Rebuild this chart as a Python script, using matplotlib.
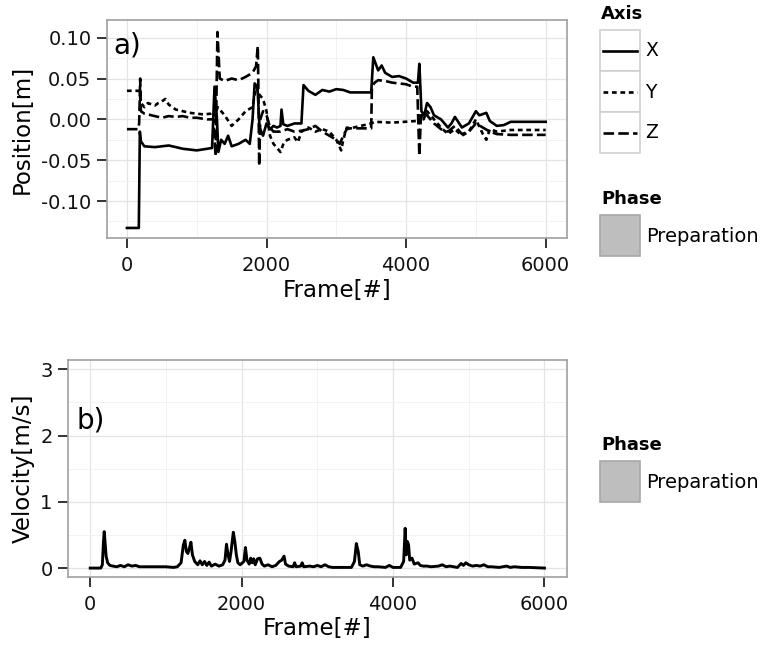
import matplotlib
matplotlib.use('Agg')
import matplotlib.pyplot as plt
from matplotlib.patches import Rectangle
from matplotlib.lines import Line2D

plt.rcParams['font.family'] = ['DejaVu Sans']

# Position data (frame, metres)
x_frame = [0, 170, 185, 200, 250, 400, 600, 800, 1000, 1150, 1220, 1255, 1290, 1310, 1350, 1400,
           1450, 1500, 1600, 1700, 1760, 1800, 1830, 1870, 1900, 1950, 2000, 2050, 2100, 2150,
           2200, 2215, 2240, 2300, 2400, 2500, 2530, 2600, 2700, 2800, 2900, 3000, 3100, 3200,
           3500, 3530, 3600, 3650, 3700, 3800, 3900, 4000, 4100, 4170, 4190, 4220, 4260, 4300,
           4350, 4400, 4500, 4600, 4650, 4700, 4800, 4900, 5000, 5050, 5150, 5200, 5300, 5400,
           5500, 6000]
x_pos = [-0.133, -0.133, -0.015, -0.027, -0.033, -0.034, -0.032, -0.036, -0.038, -0.036, -0.035,
         0.040, 0.000, -0.040, -0.025, -0.030, -0.020, -0.033, -0.030, -0.025, -0.030, 0.000,
         0.044, 0.040, -0.010, -0.020, -0.005, -0.012, -0.008, -0.010, -0.008, 0.012, -0.006,
         -0.008, -0.005, -0.005, 0.042, 0.035, 0.030, 0.036, 0.034, 0.037, 0.036, 0.033, 0.033,
         0.076, 0.060, 0.066, 0.057, 0.052, 0.053, 0.050, 0.045, 0.045, 0.068, 0.010, 0.005,
         0.020, 0.015, 0.005, 0.000, -0.010, -0.005, 0.003, -0.010, -0.005, 0.010, 0.005, 0.008,
         -0.002, -0.008, -0.007, -0.003, -0.003]

y_frame = [0, 170, 185, 200, 250, 300, 400, 450, 500, 550, 600, 700, 800, 900, 1000, 1100, 1200,
           1240, 1260, 1300, 1400, 1500, 1600, 1700, 1800, 1850, 1900, 1950, 2000, 2050, 2100,
           2150, 2200, 2250, 2300, 2400, 2450, 2500, 2600, 2700, 2800, 2900, 3000, 3070, 3100,
           3150, 3200, 3500, 3550, 3800, 4150, 4200, 4250, 4300, 4400, 4500, 4600, 4700, 4800,
           4900, 5000, 5100, 5150, 5200, 5300, 5500, 6000]
y_pos = [0.035, 0.035, 0.030, 0.020, 0.015, 0.020, 0.017, 0.020, 0.022, 0.025, 0.018, 0.012,
         0.010, 0.008, 0.007, 0.006, 0.007, 0.010, 0.005, 0.015, 0.005, -0.008, 0.000, 0.010,
         0.015, 0.040, 0.030, 0.025, 0.010, -0.020, -0.030, -0.035, -0.040, -0.028, -0.025,
         -0.022, -0.028, -0.015, -0.010, -0.015, -0.012, -0.015, -0.025, -0.038, -0.025, -0.010,
         -0.011, -0.005, -0.003, -0.004, -0.002, 0.005, 0.000, 0.010, 0.000, -0.010, -0.018,
         -0.012, -0.020, -0.015, 0.000, -0.018, -0.025, -0.012, -0.015, -0.013, -0.013]

z_frame = [0, 160, 175, 190, 200, 250, 400, 500, 600, 700, 800, 900, 1000, 1150, 1240, 1270,
           1297, 1330, 1400, 1500, 1600, 1700, 1800, 1850, 1875, 1885, 1895, 1910, 1950, 2000,
           2050, 2100, 2200, 2300, 2400, 2500, 2600, 2700, 2800, 2900, 3000, 3050, 3100, 3150,
           3200, 3500, 3510, 3550, 3600, 3700, 3800, 3900, 4000, 4100, 4160, 4190, 4210, 4250,
           4300, 4400, 4500, 4600, 4700, 4800, 4900, 5000, 5100, 5200, 5300, 5500, 6000]
z_pos = [-0.012, -0.012, -0.005, 0.050, 0.010, 0.007, 0.004, 0.002, 0.004, 0.003, 0.004, 0.002,
         0.002, 0.000, 0.000, -0.045, 0.107, 0.050, 0.047, 0.050, 0.048, 0.052, 0.057, 0.065,
         0.090, 0.030, -0.057, 0.000, 0.010, 0.005, -0.010, -0.015, -0.015, -0.012, -0.015,
         -0.014, -0.012, -0.008, -0.015, -0.020, -0.025, -0.030, -0.020, -0.012, -0.011, -0.011,
         0.040, 0.045, 0.048, 0.047, 0.045, 0.044, 0.043, 0.040, 0.040, -0.045, 0.000, 0.010,
         0.005, -0.005, -0.012, -0.015, -0.008, -0.018, -0.015, -0.005, -0.010, -0.015, -0.018,
         -0.019, -0.019]

# Velocity data (frame, m/s)
v_frame = [0, 140, 160, 175, 185, 195, 210, 230, 260, 300, 350, 400, 450, 500, 550, 600, 650,
           700, 800, 900, 1000, 1100, 1150, 1200, 1230, 1250, 1270, 1290, 1310, 1330, 1350, 1380,
           1420, 1450, 1480, 1510, 1540, 1570, 1600, 1650, 1700, 1750, 1780, 1800, 1820, 1840,
           1860, 1890, 1910, 1930, 1950, 1980, 2030, 2050, 2070, 2100, 2120, 2140, 2160, 2180,
           2210, 2240, 2270, 2300, 2350, 2400, 2450, 2500, 2530, 2560, 2580, 2620, 2680, 2700,
           2720, 2780, 2800, 2820, 2900, 2950, 3000, 3050, 3100, 3150, 3200, 3300, 3450, 3490,
           3515, 3540, 3560, 3600, 3650, 3700, 3750, 3800, 3900, 3950, 4000, 4100, 4140, 4160,
           4175, 4190, 4205, 4220, 4250, 4280, 4330, 4360, 4400, 4450, 4500, 4600, 4650, 4700,
           4750, 4800, 4850, 4900, 4930, 4960, 5000, 5050, 5100, 5150, 5200, 5250, 5300, 5400,
           5500, 5550, 5600, 5700, 5800, 6000]
v_val = [0.0, 0.0, 0.05, 0.40, 0.55, 0.40, 0.18, 0.08, 0.04, 0.03, 0.02, 0.04, 0.02, 0.05, 0.03,
         0.04, 0.02, 0.02, 0.02, 0.02, 0.02, 0.01, 0.02, 0.08, 0.35, 0.42, 0.25, 0.22, 0.30, 0.39,
         0.20, 0.10, 0.05, 0.11, 0.05, 0.10, 0.04, 0.09, 0.03, 0.06, 0.03, 0.05, 0.12, 0.36, 0.20,
         0.10, 0.25, 0.54, 0.40, 0.20, 0.08, 0.05, 0.10, 0.31, 0.12, 0.06, 0.15, 0.08, 0.14, 0.05,
         0.14, 0.15, 0.06, 0.03, 0.05, 0.02, 0.04, 0.10, 0.12, 0.18, 0.06, 0.03, 0.02, 0.08, 0.02,
         0.03, 0.08, 0.02, 0.03, 0.02, 0.04, 0.02, 0.05, 0.02, 0.01, 0.01, 0.01, 0.10, 0.37, 0.25,
         0.05, 0.03, 0.05, 0.03, 0.02, 0.02, 0.01, 0.04, 0.01, 0.01, 0.10, 0.60, 0.20, 0.40, 0.35,
         0.12, 0.15, 0.06, 0.08, 0.04, 0.03, 0.03, 0.02, 0.03, 0.05, 0.02, 0.03, 0.02, 0.01, 0.07,
         0.04, 0.08, 0.05, 0.03, 0.04, 0.03, 0.05, 0.02, 0.02, 0.01, 0.03, 0.01, 0.02, 0.01, 0.01,
         0.0]

axis_labels = ['X', 'Y', 'Z']
phase_label = 'Preparation'

W, H = 767, 647
fig = plt.figure(figsize=(W / 100, H / 100), dpi=100)


def fx(x):
    return x / W


def fy(y):
    return 1 - y / H


def style_panel(ax, yticks, yminor):
    ax.set_xticks([0, 2000, 4000, 6000])
    ax.set_xticks([1000, 3000, 5000], minor=True)
    ax.set_yticks(yticks)
    ax.set_yticks(yminor, minor=True)
    ax.grid(which='major', color='#E4E4E4', lw=0.9)
    ax.grid(which='minor', color='#F2F2F2', lw=0.7)
    ax.set_axisbelow(True)
    for s in ax.spines.values():
        s.set_color('#A0A0A0')
        s.set_linewidth(1.2)
    ax.tick_params(which='major', length=7.5, width=1.4, color='#333333',
                   labelsize=14, labelcolor='#111111')
    ax.tick_params(axis='x', which='major', pad=5.5)
    ax.tick_params(axis='y', which='major', pad=3.5)
    ax.tick_params(which='minor', length=0)


LW = 1.9
Y_DASH = (0, (1.8, 1.4))
Z_DASH = (0, (4.0, 1.6))

# Panel a) position
ax1 = fig.add_axes([fx(106.7), fy(238), fx(566.6) - fx(106.7), (238 - 20) / H])
ax1.plot(x_frame, x_pos, color='black', lw=LW, ls='-')
ax1.plot(y_frame, y_pos, color='black', lw=LW, ls=Y_DASH)
ax1.plot(z_frame, z_pos, color='black', lw=LW, ls=Z_DASH)
ax1.set_xlim(-290, 6300)
ax1.set_ylim(-0.1453, 0.1217)
style_panel(ax1, [-0.10, -0.05, 0.00, 0.05, 0.10], [-0.125, -0.075, -0.025, 0.025, 0.075])
ax1.set_yticklabels(['-0.10', '-0.05', '0.00', '0.05', '0.10'])
ax1.set_xlabel('Frame[#]', fontsize=16.5, labelpad=3)
ax1.set_ylabel('Position[m]', fontsize=16.5, labelpad=5)
ax1.text(0, 0.091, 'a)', fontsize=20, ha='center', va='center')

# Panel b) velocity
ax2 = fig.add_axes([fx(67.9), fy(576.7), fx(566.8) - fx(67.9), (576.7 - 360) / H])
ax2.plot(v_frame, v_val, color='black', lw=2.1)
ax2.set_xlim(-295, 6295)
ax2.set_ylim(-0.13, 3.14)
style_panel(ax2, [0, 1, 2, 3], [0.5, 1.5, 2.5])
ax2.set_xlabel('Frame[#]', fontsize=16.5, labelpad=2)
ax2.set_ylabel('Velocity[m/s]', fontsize=16.5, labelpad=4)
ax2.text(0, 2.22, 'b)', fontsize=20, ha='center', va='center')

# Legends drawn in ggplot style
key_edge = '#CFCFCF'
fig.text(fx(601), fy(14), 'Axis', fontsize=13, fontweight='bold', va='center')
dashes = ['-', Y_DASH, Z_DASH]
for i, lab in enumerate(axis_labels):
    top = 30 + i * 41
    fig.add_artist(Rectangle((fx(600), fy(top + 41)), 40 / W, 41 / H, transform=fig.transFigure,
                             facecolor='white', edgecolor=key_edge, lw=1.2))
    fig.add_artist(Line2D([fx(603), fx(637)], [fy(top + 20.5)] * 2, transform=fig.transFigure,
                          color='black', lw=LW, ls=dashes[i]))
    fig.text(fx(645), fy(top + 21), lab, fontsize=13.5, va='center')


def phase_legend(title_y, key_top):
    fig.text(fx(601), fy(title_y), 'Phase', fontsize=13, fontweight='bold', va='center')
    fig.add_artist(Rectangle((fx(600), fy(key_top + 41)), 40 / W, 41 / H,
                             transform=fig.transFigure, facecolor='#BEBEBE',
                             edgecolor='#A8A8A8', lw=1.2))
    fig.text(fx(646), fy(key_top + 22), phase_label, fontsize=14, va='center')


phase_legend(199, 215)
phase_legend(445, 461)

fig.savefig('out.png', dpi=100)
